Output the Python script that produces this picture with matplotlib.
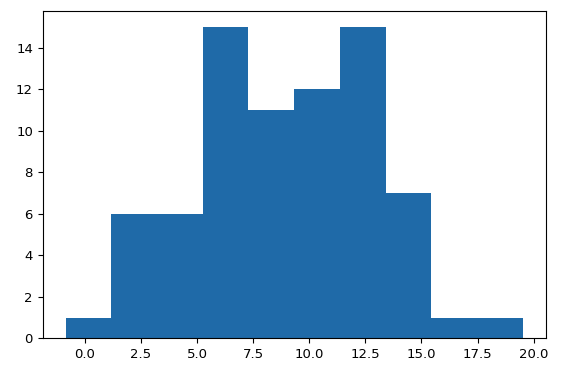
import numpy as np
import matplotlib
matplotlib.use("Agg")
import matplotlib.pyplot as plt

bin_edges = [-0.86, 1.18, 3.22, 5.25, 7.29, 9.33, 11.37, 13.41, 15.44, 17.48, 19.52]
counts = [1, 6, 6, 15, 11, 12, 15, 7, 1, 1]

fig = plt.figure(figsize=(5.67, 3.79), dpi=100)
ax = fig.add_axes([42.7/567, 1 - 338.3/379, (545.7 - 42.7)/567, (338.3 - 11.3)/379])
edges = np.array(bin_edges)
centers = (edges[:-1] + edges[1:]) / 2
ax.hist(centers, bins=edges, weights=counts, color="#1f6aa8")
ax.set_xticks([0.0, 2.5, 5.0, 7.5, 10.0, 12.5, 15.0, 17.5, 20.0])
ax.tick_params(labelsize=9.5)
fig.savefig("out.png", dpi=100)
